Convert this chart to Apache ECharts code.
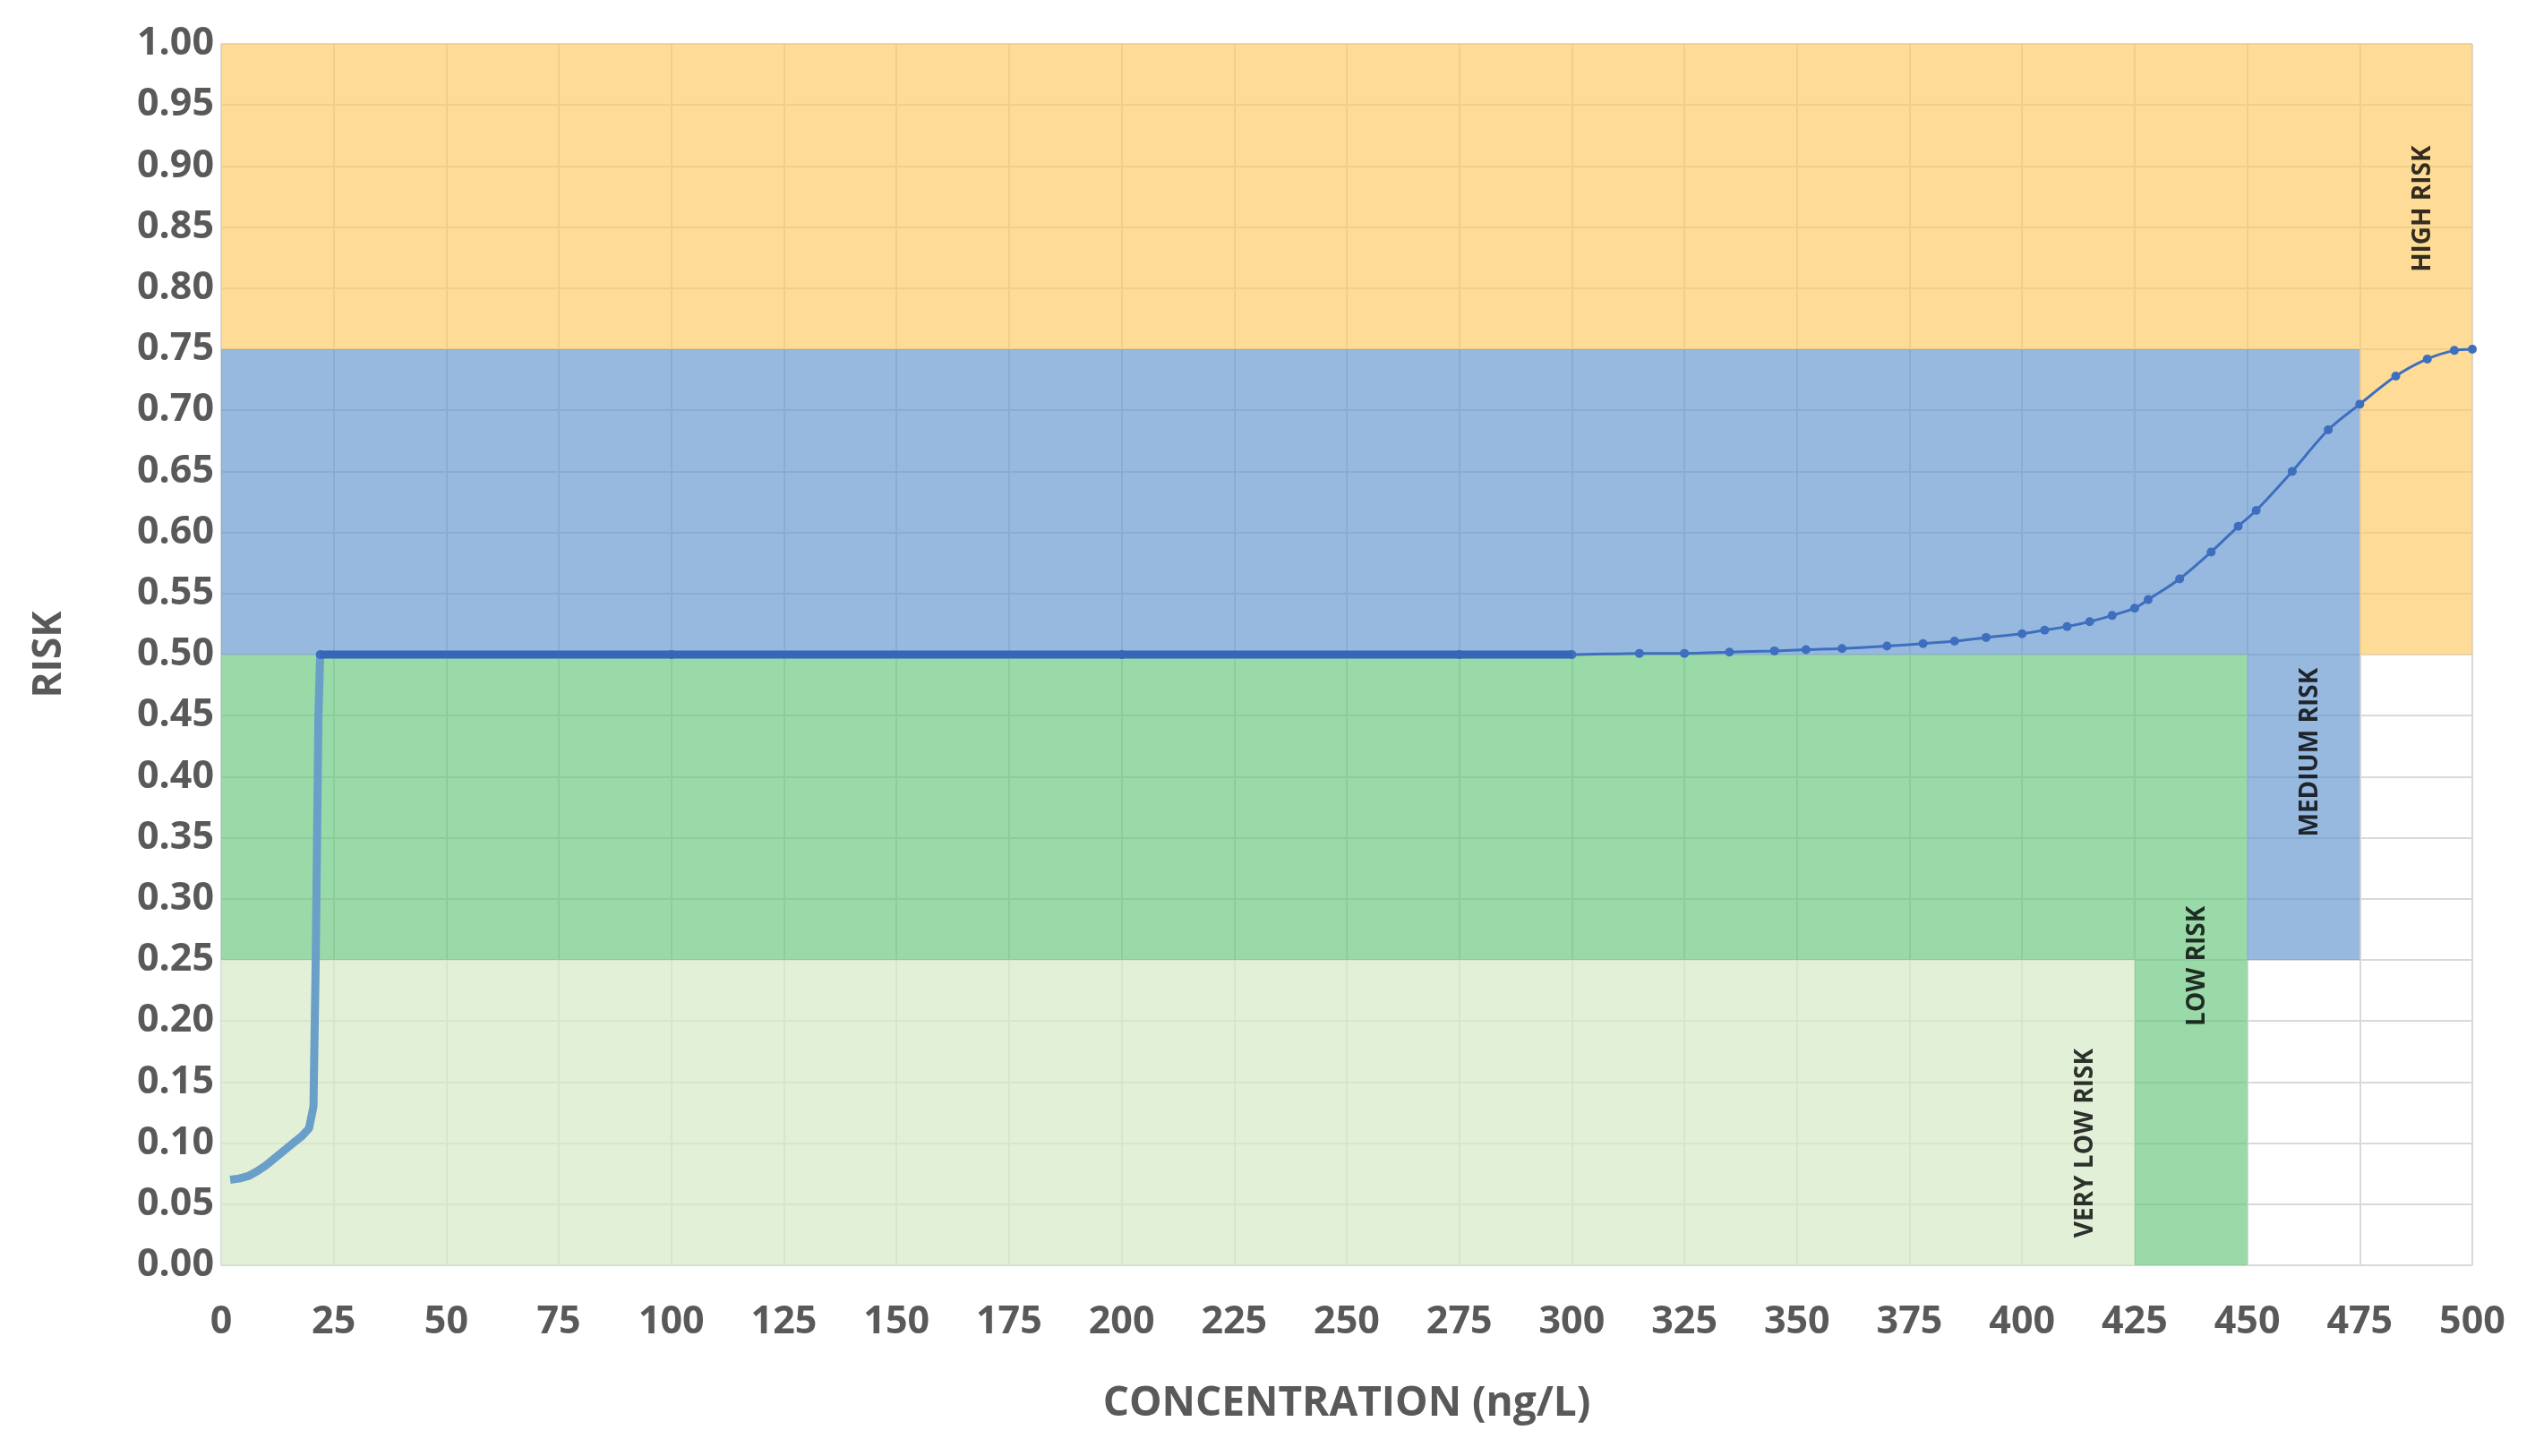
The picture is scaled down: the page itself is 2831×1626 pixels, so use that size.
<!DOCTYPE html>
<html><head><meta charset="utf-8">
<script src="https://cdn.jsdelivr.net/npm/echarts@6/dist/echarts.min.js"></script>
<style>html,body{margin:0;background:#fff}#c{width:2831px;height:1626px}</style>
</head><body><div id="c"></div>
<script>
// rising part near zero
const lowX = [2, 4, 6, 8, 10, 12, 14, 16, 18, 19.5, 20.5, 21, 21.3, 21.6, 22]
const lowY = [0.07, 0.071, 0.073, 0.077, 0.082, 0.088, 0.094, 0.1, 0.106, 0.112, 0.13, 0.25, 0.35, 0.45, 0.5]
// plateau and upper tail
const tailX = [22, 100, 200, 275, 300, 315, 325, 335, 345, 352, 360, 370, 378, 385, 392, 400, 405, 410, 415, 420, 425, 428, 435, 442, 448, 452, 460, 468, 475, 483, 490, 496, 500]
const tailY = [0.5, 0.5, 0.5, 0.5, 0.5, 0.501, 0.501, 0.502, 0.503, 0.504, 0.505, 0.507, 0.509, 0.511, 0.514, 0.517, 0.52, 0.523, 0.527, 0.532, 0.538, 0.545, 0.562, 0.584, 0.605, 0.618, 0.65, 0.684, 0.705, 0.728, 0.742, 0.749, 0.75]

// risk zones: [x0, x1, y0, y1]
const veryLow = [[0, 425, 0, 0.25]]
const low = [[0, 450, 0.25, 0.5], [425, 450, 0, 0.25]]
const medium = [[0, 475, 0.5, 0.75], [450, 475, 0.25, 0.5]]
const high = [[0, 500, 0.75, 1], [475, 500, 0.5, 0.75]]
const zoneNames = ['VERY LOW RISK', 'LOW RISK', 'MEDIUM RISK', 'HIGH RISK']
const labelX = [414, 439, 464, 489]
const labelY = [0.1, 0.245, 0.42, 0.865]

const font = 'Open Sans'
const area = (zones, color) => ({
  type: 'line', data: [], silent: true,
  markArea: { silent: true, itemStyle: { color }, data: zones.map(z => [{ coord: [z[0], z[2]] }, { coord: [z[1], z[3]] }]) }
})
const pairs = (xs, ys) => xs.map((x, i) => [x, ys[i]])

const chart = echarts.init(document.getElementById('c'))
chart.setOption({
  animation: false,
  grid: { left: 247, right: 70, top: 49, bottom: 213 },
  xAxis: {
    type: 'value', min: 0, max: 500, interval: 25,
    name: 'CONCENTRATION (ng/L)', nameLocation: 'middle', nameGap: 132,
    nameTextStyle: { fontFamily: font, fontWeight: 'bold', fontSize: 46, color: '#595959' },
    axisLabel: { fontFamily: font, fontWeight: 'bold', fontSize: 43, color: '#595959', margin: 42 },
    axisLine: { show: false }, axisTick: { show: false },
    splitLine: { lineStyle: { color: '#d9d9d9', width: 2 } }
  },
  yAxis: {
    type: 'value', min: 0, max: 1, interval: 0.05,
    name: 'RISK', nameLocation: 'middle', nameGap: 170,
    nameTextStyle: { fontFamily: font, fontWeight: 'bold', fontSize: 44, color: '#595959' },
    axisLabel: { fontFamily: font, fontWeight: 'bold', fontSize: 43, color: '#595959', formatter: v => v.toFixed(2) },
    axisLine: { show: false }, axisTick: { show: false },
    splitLine: { lineStyle: { color: '#d9d9d9', width: 2 } }
  },
  series: [
    area(veryLow, 'rgba(214,234,200,0.7)'),
    area(low, 'rgba(100,196,122,0.65)'),
    area(medium, 'rgba(97,148,206,0.65)'),
    area(high, 'rgba(253,201,95,0.65)'),
    {
      type: 'line', data: pairs(lowX, lowY), showSymbol: false,
      lineStyle: { color: '#6a9fc8', width: 9 }, z: 5
    },
    {
      type: 'line', data: pairs(tailX, tailY), smooth: 0.3, symbol: 'circle', symbolSize: 10,
      itemStyle: { color: '#3e6fbf' }, lineStyle: { color: '#3e6fbf', width: 3 }, z: 5
    },
    {
      type: 'line', data: pairs(tailX.slice(0, 5), tailY.slice(0, 5)), showSymbol: false,
      lineStyle: { color: '#3566b8', width: 9 }, z: 6
    },
    {
      type: 'scatter', symbolSize: 0, z: 10,
      data: zoneNames.map((n, i) => ({ value: [labelX[i], labelY[i]], name: n })),
      label: { show: true, formatter: p => p.name, rotate: 90, position: 'inside',
        fontFamily: font, fontWeight: 'bold', fontSize: 28, color: '#000' }
    }
  ]
})
</script></body></html>
